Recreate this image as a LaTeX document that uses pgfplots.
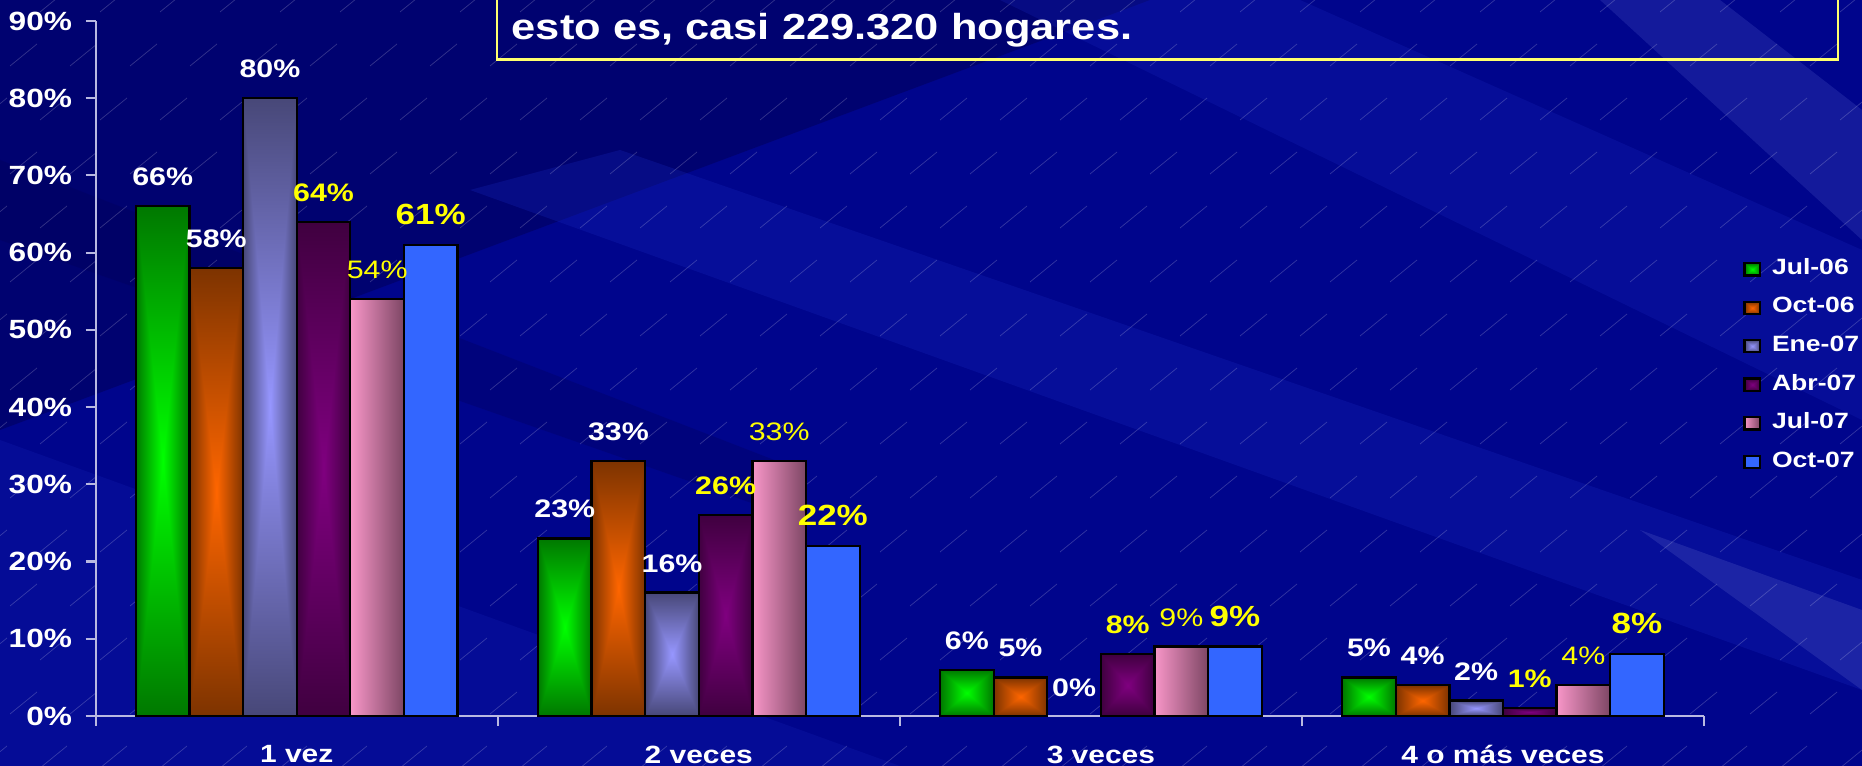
\documentclass[border=0pt]{standalone}
\usepackage{fontspec}
\setmainfont{Liberation Sans}[FakeStretch=1.2]
\usepackage{pgfplots}
\pgfplotsset{compat=1.18}

\definecolor{axgray}{RGB}{185,185,225}
\definecolor{ylab}{RGB}{255,255,0}
\definecolor{boxyel}{RGB}{255,255,110}
\definecolor{bgbase}{RGB}{0,5,140}
\definecolor{bgdark}{RGB}{0,0,80}
\definecolor{bglight}{RGB}{25,40,190}
\definecolor{pinkL}{RGB}{248,150,200}
\definecolor{pinkR}{RGB}{125,70,100}
\definecolor{blueB}{RGB}{51,102,255}

% rectangular "from centre" gradient: centre colour, (edge - centre)
\newcommand\boxshade[7]{%
  \pgfdeclarefunctionalshading{#1}{\pgfpoint{-50bp}{-50bp}}{\pgfpoint{50bp}{50bp}}{}{%
    abs exch abs 2 copy lt {exch} if pop 25 div dup 1 gt {pop 1} if
    dup #5 mul #2 add exch dup #6 mul #3 add exch #7 mul #4 add}}
\boxshade{bxgreen}{0}{1}{0}{0}{-0.53}{0}
\boxshade{bxorange}{1}{0.4}{0}{-0.51}{-0.2}{0}
\boxshade{bxlav}{0.59}{0.59}{1}{-0.31}{-0.31}{-0.53}
\boxshade{bxpurple}{0.5}{0}{0.5}{-0.25}{0}{-0.25}

\pgfplotsset{
  legsq/.style={legend image code/.code={%
    \draw[##1] (0mm,-0.615mm) rectangle (1.56mm,0.615mm);
    \path (2.63mm,0);}},
  lblw/.style={nodes near coords style={text=white,font=\fontsize{7.2}{8}\selectfont\bfseries}},
  lbly/.style={nodes near coords style={text=ylab,font=\fontsize{7.2}{8}\selectfont\bfseries}},
  lblyr/.style={nodes near coords style={text=ylab,font=\fontsize{7.2}{8}\selectfont}},
  lblyb/.style={nodes near coords style={text=ylab,font=\fontsize{8.3}{9}\selectfont\bfseries}},
  bx/.style={draw=black, line width=0.65pt, legsq},
  sA/.style={bx, bar shift=-0.33333, shade, shading=bxgreen, lblw},
  sB/.style={bx, bar shift=-0.2, shade, shading=bxorange, lblw},
  sC/.style={bx, bar shift=-0.066667, shade, shading=bxlav, lblw},
  sD/.style={bx, bar shift=0.066667, shade, shading=bxpurple, lbly},
  sE/.style={bx, bar shift=0.2, left color=pinkL, right color=pinkR, lblyr},
  sF/.style={bx, bar shift=0.33333, fill=blueB, lblyb},
}

\begin{document}
\begin{tikzpicture}
\useasboundingbox (-9.57mm,-5mm) rectangle (176.63mm,71.6mm);
\begin{scope}[shift={(-9.57mm,71.6mm)}, x=0.1mm, y=-0.1mm]
  \clip (0,0) rectangle (1862,766);
  \fill[bgbase] (0,0) rectangle (1862,766);
  \fill[bgdark, opacity=0.45] (0,0) -- (1150,0) -- (0,430) -- cycle;
  \fill[bgdark, opacity=0.25] (0,160) -- (800,470) -- (800,520) -- (0,240) -- cycle;
  \fill[bglight, opacity=0.28] (620,150) -- (1862,580) -- (1862,690) -- (470,190) -- cycle;
  \fill[bglight, opacity=0.25] (1000,0) -- (1300,0) -- (1862,250) -- (1862,420) -- cycle;
  \fill[bglight!70!white, opacity=0.22] (1600,0) -- (1720,0) -- (1862,110) -- (1862,240) -- cycle;
  \fill[bglight!60!white, opacity=0.2] (1640,530) -- (1862,610) -- (1862,690) -- cycle;
  \fill[bglight, opacity=0.2] (0,440) -- (900,766) -- (0,766) -- cycle;
  \foreach \i in {0,...,32}{
    \foreach \j in {0,...,14}{
      \draw[white, opacity=0.2, line width=0.2pt]
        ({\i*60+mod(\j,2)*30-20},{\j*54+12}) -- ++(27,-22);
    }
  }
  \draw[boxyel, line width=0.65pt] (497,-10) rectangle (1838,59.5);
  \node[anchor=base west, inner sep=0pt, text=white,
        font=\fontsize{10.3}{12}\selectfont\bfseries] at (511,39.5) {esto es, casi 229.320 hogares.};
\end{scope}

\begin{axis}[
  at={(0,0)}, anchor=south west,
  scale only axis, width=160.83mm, height=69.5mm,
  xmin=-0.5, xmax=3.5, ymin=0, ymax=90,
  ybar, bar width=0.13333,
  axis lines*=left,
  axis line style={draw=axgray, line width=0.6pt},
  tick style={draw=axgray, line width=0.6pt},
  tick align=outside, major tick length=1mm,
  xtick={-0.5,0.5,1.5,2.5,3.5}, xticklabels={},
  extra x ticks={0,1,2,3},
  extra x tick labels={1 vez,2 veces,3 veces,4 o más veces},
  extra x tick style={major tick length=0pt},
  ytick={0,10,...,90},
  yticklabel={\pgfmathprintnumber{\tick}\%},
  /pgf/number format/assume math mode=true,
  yticklabel style={font=\fontsize{7.5}{8}\selectfont\bfseries, text=white, anchor=east, inner sep=0pt, xshift=-1.3mm},
  xticklabel style={font=\fontsize{7.1}{8}\selectfont\bfseries, text=white, anchor=north, inner sep=0pt, yshift=-2.9mm},
  nodes near coords={\pgfmathprintnumber{\pgfplotspointmeta}\%},
  every node near coord/.append style={anchor=south, inner sep=0pt, yshift=1.9mm},
  legend style={at={(1.02406,0.659)}, anchor=north west, draw=none, fill=none,
    font=\fontsize{6.3}{7}\selectfont\bfseries, text=white, row sep=1.75mm,
    inner sep=0pt, nodes={inner sep=0pt}},
  legend cell align=left,
  clip=false,
]
% Jul-06
\addplot[sA] coordinates {(0,66)};
\addlegendentry{Jul-06}
\addplot[sA, forget plot] coordinates {(1,23)};
\addplot[sA, forget plot] coordinates {(2,6)};
\addplot[sA, forget plot] coordinates {(3,5)};
% Oct-06
\addplot[sB] coordinates {(0,58)};
\addlegendentry{Oct-06}
\addplot[sB, forget plot] coordinates {(1,33)};
\addplot[sB, forget plot] coordinates {(2,5)};
\addplot[sB, forget plot] coordinates {(3,4)};
% Ene-07
\addplot[sC] coordinates {(0,80)};
\addlegendentry{Ene-07}
\addplot[sC, forget plot] coordinates {(1,16)};
\addplot[bar shift=-0.066667, draw=none, fill=none, lblw, forget plot] coordinates {(2,0)};
\addplot[sC, forget plot] coordinates {(3,2)};
% Abr-07
\addplot[sD] coordinates {(0,64)};
\addlegendentry{Abr-07}
\addplot[sD, forget plot] coordinates {(1,26)};
\addplot[sD, forget plot] coordinates {(2,8)};
\addplot[sD, forget plot] coordinates {(3,1)};
% Jul-07
\addplot[sE] coordinates {(0,54)};
\addlegendentry{Jul-07}
\addplot[sE, forget plot] coordinates {(1,33)};
\addplot[sE, forget plot] coordinates {(2,9)};
\addplot[sE, forget plot] coordinates {(3,4)};
% Oct-07
\addplot[sF] coordinates {(0,61)};
\addlegendentry{Oct-07}
\addplot[sF, forget plot] coordinates {(1,22)};
\addplot[sF, forget plot] coordinates {(2,9)};
\addplot[sF, forget plot] coordinates {(3,8)};
\end{axis}
\end{tikzpicture}
\end{document}
